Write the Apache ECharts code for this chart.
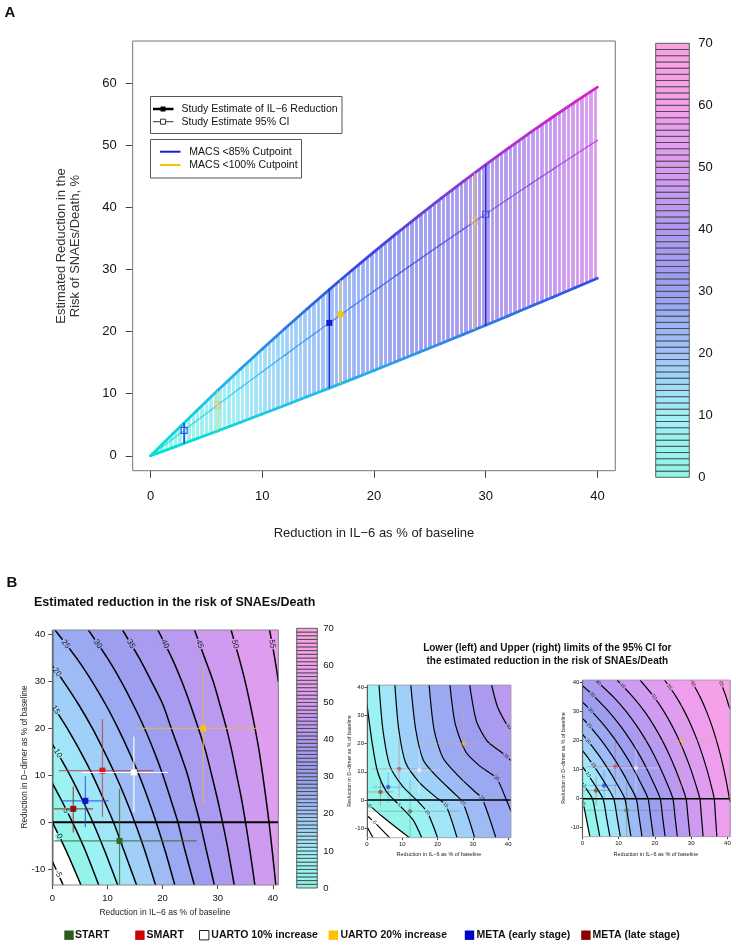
<!DOCTYPE html>
<html><head><meta charset="utf-8">
<script src="https://cdn.jsdelivr.net/npm/echarts@6/dist/echarts.min.js"></script>
<style>html,body{margin:0;padding:0;background:#fff}#c{width:736px;height:945px}</style>
</head><body><div id="c"></div>
<script>
const FONT = '"Liberation Sans", Arial, Helvetica, sans-serif';

// ---------------- Panel A data ----------------
const ilX        = [0,2,4,6,8,10,12,14,16,18,20,22,24,26,28,30,32,34,36,38,40];
const riskUpper  = [0,3.57,7.07,10.52,13.89,17.21,20.46,23.65,26.78,29.84,32.84,35.78,38.65,41.46,44.21,46.89,49.51,52.07,54.56,56.99,59.36];
const riskCenter = [0,2.75,5.48,8.19,10.88,13.54,16.18,18.8,21.39,23.97,26.52,29.05,31.56,34.04,36.5,38.94,41.35,43.75,46.12,48.48,50.8];
const riskLower  = [0,1.32,2.66,4.0,5.36,6.73,8.11,9.5,10.9,12.31,13.74,15.18,16.63,18.08,19.55,21.03,22.52,24.03,25.53,27.06,28.6];
const axisATicksX = [0,10,20,30,40];
const axisATicksY = [0,10,20,30,40,50,60];
const macs85X = [3,16,30], macs85Est = [4.1,21.4,38.9], macs85Lo = [2.0,10.9,21.0], macs85Hi = [5.3,26.8,46.9], macs85Filled = [false,true,false];
const macs100X = [6,17,29], macs100Est = [8.2,22.8,37.8], macs100Lo = [4.0,11.6,20.3], macs100Hi = [10.5,28.3,45.6], macs100Filled = [false,true,false];
const colorbarBreaks = [0,1,2,3,4,5,6,7,8,9,10,11,12,13,14,15,16,17,18,19,20,21,22,23,24,25,26,27,28,29,30,31,32,33,34,35,36,37,38,39,40,41,42,43,44,45,46,47,48,49,50,51,52,53,54,55,56,57,58,59,60,61,62,63,64,65,66,67,68,69,70];
const colorbarTicks = [0,10,20,30,40,50,60,70];

// ---------------- Panel B data ----------------
const bTicksX = [0,10,20,30,40];
const bTicksY = [-10,0,10,20,30,40];
const mainLevels = [-5,0,5,10,15,20,25,30,35,40,45,50,55];
const mainContours = [
 [[0,-8.33],[1.05,-11],[1.96,-13.4]],
 [[0,0],[2.47,-6],[5.2,-13.4]],
 [[0,8.33],[1.52,5],[3.65,0],[5.96,-6],[8.42,-13.4]],
 [[0,16.67],[1.34,14],[3.22,10],[5.35,5],[7.35,0],[9.46,-6],[11.86,-13.4]],
 [[0,25],[1.12,23],[2.71,20],[5.13,15],[7.32,10],[9.25,5],[11.1,0],[12.98,-6],[15.28,-13.4]],
 [[0,33.33],[2.05,30],[4.82,25],[7.28,20],[9.45,15],[11.48,10],[13.3,5],[14.96,0],[16.76,-6],[18.72,-13.4]],
 [[0.48,41],[4.4,35],[7.23,30],[9.73,25],[11.93,20],[13.92,15],[15.75,10],[17.36,5],[18.84,0],[20.44,-6],[22.22,-13.4]],
 [[6.54,41],[10.0,35],[12.51,30],[14.72,25],[16.74,20],[18.5,15],[20.07,10],[21.45,5],[22.79,0],[24.06,-6],[25.76,-13.4]],
 [[12.75,41],[15.78,35],[18.0,30],[20.1,25],[21.58,20],[23.12,15],[24.56,10],[25.66,5],[26.78,0],[27.95,-6],[29.39,-13.4]],
 [[19.15,41],[21.7,35],[23.5,30],[25.07,25],[26.5,20],[27.86,15],[28.93,10],[29.95,5],[30.88,0],[31.9,-6],[33.0,-13.4]],
 [[25.8,41],[27.66,35],[29.2,30],[30.43,25],[31.6,20],[32.6,15],[33.46,10],[34.32,5],[35.05,0],[35.85,-6],[36.75,-13.4]],
 [[32.44,41],[33.89,35],[34.99,30],[35.93,25],[36.78,20],[37.55,15],[38.18,10],[38.77,5],[39.31,0],[39.89,-6],[40.55,-13.4]],
 [[39.42,41],[39.9,38],[40.35,35],[40.63,33],[41,30]]
];
const mainLabelPos = [[1.05,-11],[1.27,-3],[2.5,2.4],[1.0,14.7],[0.6,24],[0.84,32],[2.44,38],[8.27,38],[14.27,38],[20.43,38],[26.73,38],[33.17,38],[39.9,38]];

const leftLevels = [-10,-5,0,5,10,15,20,25,30,35,40];
const leftContours = [
 [[0,-9.5],[1.7,-13.4]],
 [[0,-5.5],[3,-9],[6.4,-13.4]],
 [[0,-1.2],[4,-5.5],[8,-9.5],[12,-13.4]],
 [[0,33.8],[1.5,20],[3,10],[5.5,3],[9.1,-1.8],[13,-7],[15.5,-13.4]],
 [[3.4,40.8],[4.5,25],[6.5,12],[10,5],[14,0],[17.1,-4.4],[20,-13.4]],
 [[7.9,40.8],[9,25],[11,13],[15,6],[19.5,1],[22.3,-1.8],[25.5,-13.4]],
 [[12.4,40.8],[13.8,25],[16,14],[20,8],[25,2],[27.2,-1],[30.5,-13.4]],
 [[17.6,40.8],[19,25],[21.5,15],[25.5,9],[30.5,3],[32.6,0.6],[36.5,-13.4]],
 [[23.5,40.8],[25,27],[28,17],[32,12],[36.7,7.7],[39.5,0],[40.8,-4]],
 [[29.1,40.8],[31,28],[34,21],[38,17],[40.8,14]],
 [[35.3,40.8],[37,33],[39.5,27],[40.8,25]]
];
const leftLabelPos = [null,[2.0,-7.9],[0.8,-2.1],[9.1,-1.8],[17.1,-4.4],[22.3,-1.8],[27.2,-1],[32.6,0.6],[36.7,7.7],[39.4,15.5],[40.1,26]];

const rightLevels = [0,5,10,15,20,25,30,35,40,45,50,55,60,65];
const rightContours = [
 [[0,0],[0.98,-6],[2.08,-13.1]],
 [[0,5.56],[0.3,5],[1.58,2.5],[2.81,0],[3.76,-6],[4.82,-13.1]],
 [[0,11.11],[0.63,10],[3.3,5],[5.7,0],[6.6,-6],[7.61,-13.1]],
 [[0,16.67],[1.03,15],[3.87,10],[6.4,5],[8.66,0],[9.52,-6],[10.47,-13.1]],
 [[0,22.22],[1.49,20],[4.53,15],[7.21,10],[9.59,5],[11.72,0],[12.52,-6],[13.4,-13.1]],
 [[0,27.78],[0.59,27],[2.03,25],[5.29,20],[8.13,15],[10.65,10],[12.86,5],[14.86,0],[15.61,-6],[16.45,-13.1]],
 [[0,33.33],[1.12,32],[2.67,30],[6.2,25],[9.23,20],[11.88,15],[14.2,10],[16.27,5],[18.11,0],[18.8,-6],[19.59,-13.1]],
 [[0,38.89],[1.77,37],[3.48,35],[7.3,30],[10.54,25],[13.33,20],[15.78,15],[17.89,10],[19.79,5],[21.47,0],[22.1,-6],[22.82,-13.1]],
 [[3.64,40.9],[8.63,35],[12.12,30],[15.05,25],[17.59,20],[19.8,15],[21.72,10],[23.45,5],[24.96,0],[25.53,-6],[26.19,-13.1]],
 [[9.59,40.9],[13.99,35],[17.18,30],[19.8,25],[22.06,20],[24.02,15],[25.73,10],[27.25,5],[28.59,0],[29.1,-6],[29.67,-13.1]],
 [[15.91,40.9],[19.82,35],[22.52,30],[24.78,25],[26.75,20],[28.44,15],[29.93,10],[31.23,5],[32.38,0],[32.82,-6],[33.3,-13.1]],
 [[22.66,40.9],[25.93,35],[28.19,30],[30.09,25],[31.71,20],[33.11,15],[34.34,10],[35.41,5],[36.35,0],[36.69,-6],[37.08,-13.1]],
 [[29.94,40.9],[32.5,35],[34.26,30],[35.73,25],[36.98,20],[38.08,15],[39.01,10],[39.83,5],[40.55,0],[40.7,-1]],
 [[37.92,40.9],[39.65,35],[40.38,32],[40.7,31]]
];
const rightLabelPos = [[0.3,-1.8],[0.66,4.3],[1.59,8.3],[3.06,11.5],[1.6,19.8],[1.95,25.2],[2.3,30.5],[2.8,35.8],[4.4,40],[11.08,38.9],[19.82,35],[23.99,38.5],[30.5,39.6],[38.3,39.6]];

const studyNames = ['START','SMART','UARTO 10% increase','UARTO 20% increase','META (early stage)','META (late stage)'];
const studyX   = [12.2, 9.1, 14.8, 27.4, 6.0, 3.8];
const studyY   = [-4.0, 11.0, 10.6, 20.0, 4.56, 2.85];
const studyXlo = [0.3, 1.2, 5.4, 15.3, 1.7, 0.3];
const studyXhi = [26.2, 18.4, 21.0, 37.7, 10.2, 7.4];
const studyYlo = [-13.4, 1.1, 2.1, 3.9, -1.1, -2.2];
const studyYhi = [7.05, 22.0, 18.3, 33.4, 9.8, 7.6];

// ---------------- styles ----------------
const studyColor = ['#2f6a27','#dc1a1a','#ffffff','#f7c21a','#1414d4','#8c1414'];
const studyBarColor = ['rgba(47,106,39,0.75)','rgba(190,60,60,0.75)','rgba(255,255,255,0.95)','rgba(225,185,80,0.8)','rgba(40,80,225,0.8)','rgba(140,30,30,0.75)'];
const legendColor = ['#2e5a1c','#cc0000','#ffffff','#ffc000','#0000cc','#8b0000'];
const PAL = [[0,[144,245,228]],[10,[160,240,248]],[20,[160,196,248]],[30,[152,160,240]],[40,[176,152,240]],[50,[216,156,240]],[60,[244,160,236]],[70,[248,164,224]]];
const LPAL = [[0,[0,228,208]],[10,[32,192,232]],[20,[48,128,232]],[30,[48,72,224]],[40,[112,64,216]],[50,[176,48,208]],[60,[224,32,192]],[70,[240,32,176]]];
function toRgb(c){return 'rgb('+c.map(Math.round).join(',')+')';}
function palColor(v, pal){
  pal = pal || PAL;
  if (v <= pal[0][0]) return toRgb(pal[0][1]);
  for (let i=1;i<pal.length;i++){
    if (v <= pal[i][0]) { const t=(v-pal[i-1][0])/(pal[i][0]-pal[i-1][0]); const a=pal[i-1][1], b=pal[i][1]; return toRgb(a.map((c,j)=>c+(b[j]-c)*t)); }
  }
  return toRgb(pal[pal.length-1][1]);
}

// layout boxes (pixels)
const gA  = {left:132.7, top:41, width:482.6, height:429.7};
const gCA = {left:655.7, top:43.3, width:33.6, height:434};
const gB  = {left:52.3, top:630, width:226, height:255};
const gCB = {left:296.7, top:628.3, width:20.6, height:259.7};
const gL  = {left:367, top:685, width:144, height:152.7};
const gR  = {left:582.3, top:680, width:147.7, height:156.7};
const boxB = {x0:0,x1:41,y0:-13.4,y1:41};
const boxL = {x0:0,x1:40.8,y0:-13.4,y1:40.8};
const boxR = {x0:0,x1:40.7,y0:-13.1,y1:40.9};

function valAxis(grid, min, max, ticks, o){
  o = o || {};
  return {type:'value', gridIndex:grid, min:min, max:max, position:o.position,
    axisLine:{show:false, onZero:false},
    axisTick:{show:!!ticks && o.tick!==false, length:o.tickLen||5, customValues:ticks||undefined, lineStyle:{color:'#444', width:1}},
    axisLabel:{show:!!ticks, customValues:ticks||undefined, fontSize:o.fs||10, color:'#111', fontFamily:FONT, margin:o.margin||6},
    splitLine:{show:false}};
}
function hiddenAxis(grid,min,max){return {type:'value',gridIndex:grid,min:min,max:max,show:false,axisLine:{onZero:false},splitLine:{show:false}};}

function regionPoly(pts, b){
  const W=b.x1-b.x0, H=b.y1-b.y0, eps=1e-6;
  const s = p => { if (Math.abs(p[1]-b.y0)<eps) return p[0]-b.x0; if (Math.abs(p[0]-b.x1)<eps) return W+(p[1]-b.y0); if (Math.abs(p[1]-b.y1)<eps) return W+H+(b.x1-p[0]); return 2*W+H+(b.y1-p[1]); };
  const corners = [[W,[b.x1,b.y0]],[W+H,[b.x1,b.y1]],[2*W+H,[b.x0,b.y1]],[2*W+2*H,[b.x0,b.y0]]];
  const sEnd = s(pts[pts.length-1]); let sStart = s(pts[0]); if (sStart < sEnd) sStart += 2*W+2*H;
  const out = pts.slice();
  corners.forEach(c => { if (c[0] > sEnd && c[0] < sStart) out.push(c[1]); });
  return out;
}

function contourSeries(xi, yi, levels, contours, labelPos, box, o){
  const series = [];
  series.push({type:'custom', xAxisIndex:xi, yAxisIndex:yi, z:1, silent:true, clip:true,
    data: levels.map((v,i)=>[i]),
    renderItem: function(params, api){
      const i = params.dataIndex, lv = levels[i];
      if (lv < 0) return null;
      const poly = regionPoly(contours[i], box).map(p=>api.coord(p));
      return {type:'polygon', z2:i, shape:{points:poly}, style:{fill:palColor(lv+2.5), stroke:palColor(lv+2.5), lineWidth:0.5}};
    }});
  series.push({type:'custom', xAxisIndex:xi, yAxisIndex:yi, z:3, silent:true, clip:true,
    data: levels.map((v,i)=>[i]),
    renderItem: function(params, api){
      const i = params.dataIndex, lv = levels[i];
      const px = contours[i].map(p=>api.coord(p));
      const children = [{type:'polyline', shape:{points:px, smooth:0.25}, style:{stroke:'#000', lineWidth:o.lw, fill:null, lineJoin:'round'}}];
      if (labelPos[i]){
        const lp = api.coord(labelPos[i]);
        let best=0, bd=1e9;
        for (let k=0;k<px.length-1;k++){
          const mx=(px[k][0]+px[k+1][0])/2, my=(px[k][1]+px[k+1][1])/2;
          const d=(mx-lp[0])*(mx-lp[0])+(my-lp[1])*(my-lp[1]);
          if (d<bd){bd=d;best=k;}
        }
        let ang = Math.atan2(px[best+1][1]-px[best][1], px[best+1][0]-px[best][0]);
        if (ang > Math.PI/2) ang -= Math.PI; if (ang < -Math.PI/2) ang += Math.PI;
        children.push({type:'text', x:lp[0], y:lp[1], rotation:-ang, z2:10,
          style:{text:String(lv), font:o.fs+'px '+FONT, fill:'#222', align:'center', verticalAlign:'middle',
                 backgroundColor: lv<0 ? '#ffffff' : palColor(lv), padding:[0,1]}});
      }
      return {type:'group', children:children};
    }});
  series.push({type:'custom', xAxisIndex:xi, yAxisIndex:yi, z:4, silent:true, clip:true,
    data:[[0]],
    renderItem: function(params, api){
      const a=api.coord([0,box.y0]), b=api.coord([0,box.y1]), c=api.coord([box.x0,0]), d=api.coord([box.x1,0]);
      return {type:'group', children:[
        {type:'line', shape:{x1:a[0],y1:a[1],x2:b[0],y2:b[1]}, style:{stroke:'#000', lineWidth:o.zw}},
        {type:'line', shape:{x1:c[0],y1:c[1],x2:d[0],y2:d[1]}, style:{stroke:'#000', lineWidth:o.zw}}]};
    }});
  series.push({type:'custom', xAxisIndex:xi, yAxisIndex:yi, z:5, silent:true, clip:true,
    data: studyX.map((v,i)=>[i]),
    renderItem: function(params, api){
      const i = params.dataIndex;
      const c = api.coord([studyX[i], studyY[i]]);
      const xl = api.coord([studyXlo[i], studyY[i]]), xh = api.coord([studyXhi[i], studyY[i]]);
      const yl = api.coord([studyX[i], studyYlo[i]]), yh = api.coord([studyX[i], studyYhi[i]]);
      const op = o.faded ? 0.45 : 1;
      const ch = [
        {type:'line', shape:{x1:xl[0],y1:xl[1],x2:xh[0],y2:xh[1]}, style:{stroke:studyBarColor[i], lineWidth:o.bw, opacity:op}},
        {type:'line', shape:{x1:yl[0],y1:yl[1],x2:yh[0],y2:yh[1]}, style:{stroke:studyBarColor[i], lineWidth:o.bw, opacity:op}}];
      if (o.faded) ch.push({type:'circle', shape:{cx:c[0],cy:c[1],r:o.ms/2}, style:{fill:studyColor[i], opacity:0.55}});
      else ch.push({type:'rect', shape:{x:c[0]-o.ms/2,y:c[1]-o.ms/2,width:o.ms,height:o.ms}, style:{fill:studyColor[i], stroke: i===2?'#dddddd':null, lineWidth:0.5}});
      return {type:'group', children:ch};
    }});
  return series;
}

function colorbarSeries(xi, yi){
  return {type:'custom', xAxisIndex:xi, yAxisIndex:yi, z:2, silent:true,
    data: colorbarBreaks.slice(0,-1).map((v,i)=>[i]),
    renderItem: function(params, api){
      const i = params.dataIndex, v0 = colorbarBreaks[i], v1 = colorbarBreaks[i+1];
      const a = api.coord([0, v1]), b = api.coord([1, v0]);
      return {type:'rect', shape:{x:a[0], y:a[1], width:b[0]-a[0], height:b[1]-a[1]},
        style:{fill:palColor((v0+v1)/2), stroke:'#3c3c3c', lineWidth:0.8}};
    }};
}

function ciSeries(xs, est, lo, hi, filled, markColor, lineColor, openColor){
  return {type:'custom', xAxisIndex:0, yAxisIndex:0, z:6, silent:true,
    data: xs.map((v,i)=>[i]),
    renderItem: function(params, api){
      const i = params.dataIndex;
      const a = api.coord([xs[i], lo[i]]), b = api.coord([xs[i], hi[i]]), c = api.coord([xs[i], est[i]]);
      const ch = [{type:'line', shape:{x1:a[0],y1:a[1],x2:b[0],y2:b[1]}, style:{stroke:lineColor, lineWidth:1.4}}];
      if (filled[i]) ch.push({type:'rect', shape:{x:c[0]-3,y:c[1]-3,width:6,height:6}, style:{fill:markColor}});
      else ch.push({type:'rect', shape:{x:c[0]-3,y:c[1]-3,width:6,height:6}, style:{fill:'rgba(255,255,255,0.15)', stroke:openColor, lineWidth:1.1}});
      return {type:'group', children:ch};
    }};
}

const series = [];
series.push({type:'custom', xAxisIndex:0, yAxisIndex:0, z:2, silent:true,
  data: ilX.slice(0,-1).map((v,i)=>[i]),
  renderItem: function(params, api){
    const i = params.dataIndex;
    const p = [api.coord([ilX[i], riskLower[i]]), api.coord([ilX[i+1], riskLower[i+1]]), api.coord([ilX[i+1], riskUpper[i+1]]), api.coord([ilX[i], riskUpper[i]])];
    const g = new echarts.graphic.LinearGradient(0,0,1,0,[{offset:0,color:palColor(riskCenter[i])},{offset:1,color:palColor(riskCenter[i+1])}]);
    return {type:'polygon', shape:{points:p}, style:{fill:g, stroke:g, lineWidth:0.6}};
  }});
series.push({type:'custom', xAxisIndex:0, yAxisIndex:0, z:5, silent:true,
  data: ilX.slice(0,-1).map((v,i)=>[i]),
  renderItem: function(params, api){
    const i = params.dataIndex;
    const seg = (arr, w, op) => {
      const a = api.coord([ilX[i], arr[i]]), b = api.coord([ilX[i+1], arr[i+1]]);
      return {type:'line', shape:{x1:a[0],y1:a[1],x2:b[0],y2:b[1]}, style:{stroke:palColor((arr[i]+arr[i+1])/2, LPAL), lineWidth:w, lineCap:'round', opacity:op}};
    };
    return {type:'group', children:[seg(riskUpper,2.8,1), seg(riskLower,2.8,1), seg(riskCenter,1.4,0.75)]};
  }});
series.push(ciSeries(macs85X, macs85Est, macs85Lo, macs85Hi, macs85Filled, '#1a1ad2', '#1f2fd6', '#3a4ae0'));
series.push(ciSeries(macs100X, macs100Est, macs100Lo, macs100Hi, macs100Filled, '#f7c418', 'rgba(236,200,80,0.7)', 'rgba(225,190,90,0.8)'));
series.push(colorbarSeries(2, 1));
series.push(colorbarSeries(4, 3));
contourSeries(3, 2, mainLevels, mainContours, mainLabelPos, boxB, {lw:1.5, fs:8, zw:2, bw:1.2, ms:6}).forEach(s=>series.push(s));
contourSeries(5, 4, leftLevels, leftContours, leftLabelPos, boxL, {lw:1.2, fs:5, zw:1.5, bw:0.9, ms:4.5, faded:true}).forEach(s=>series.push(s));
contourSeries(6, 5, rightLevels, rightContours, rightLabelPos, boxR, {lw:1.2, fs:5, zw:1.5, bw:0.9, ms:4.5, faded:true}).forEach(s=>series.push(s));

// ---------------- graphics (titles, legends, frames) ----------------
const G = [];
function T(x,y,text,font,o){ o=o||{}; G.push({type:'text', x:x, y:y, rotation:o.rot||0, z:100, silent:true,
  style:{text:text, font:font, fill:o.fill||'#111', align:o.align||'left', verticalAlign:'middle', lineHeight:o.lh}}); }
function R(b, stroke, lw){ G.push({type:'rect', z:99, silent:true, shape:{x:b.left, y:b.top, width:b.width, height:b.height}, style:{fill:null, stroke:stroke, lineWidth:lw||1}}); }
R(gA, '#777', 1); R(gB, '#888', 1); R(gL, '#999', 0.8); R(gR, '#999', 0.8);
T(10, 13, 'A', 'bold 15px '+FONT, {align:'center'});
T(12, 583, 'B', 'bold 15px '+FONT, {align:'center'});
T(68.3, 246, 'Estimated Reduction in the\nRisk of SNAEs/Death, %', '13px '+FONT, {rot:Math.PI/2, align:'center', fill:'#333', lh:13.5});
T(374, 533, 'Reduction in IL\u22126 as % of baseline', '13px '+FONT, {align:'center', fill:'#222'});
G.push({type:'rect', z:98, silent:true, shape:{x:150.5, y:96.5, width:191.5, height:37}, style:{fill:'#fff', stroke:'#555', lineWidth:1}});
G.push({type:'rect', z:98, silent:true, shape:{x:150.5, y:139.5, width:151, height:38.5}, style:{fill:'#fff', stroke:'#555', lineWidth:1}});
G.push({type:'line', z:100, silent:true, shape:{x1:153, y1:109, x2:173.5, y2:109}, style:{stroke:'#000', lineWidth:2.5}});
G.push({type:'rect', z:101, silent:true, shape:{x:160.5, y:106.5, width:5, height:5}, style:{fill:'#000'}});
G.push({type:'line', z:100, silent:true, shape:{x1:153, y1:121.7, x2:173.5, y2:121.7}, style:{stroke:'#333', lineWidth:1}});
G.push({type:'rect', z:101, silent:true, shape:{x:160.5, y:119.2, width:5, height:5}, style:{fill:'#fff', stroke:'#333', lineWidth:1}});
T(181.5, 109, 'Study Estimate of IL\u22126 Reduction', '10.5px '+FONT);
T(181.5, 121.7, 'Study Estimate 95% CI', '10.5px '+FONT);
G.push({type:'line', z:100, silent:true, shape:{x1:160, y1:151.7, x2:180.5, y2:151.7}, style:{stroke:'#1a1ad0', lineWidth:2}});
G.push({type:'line', z:100, silent:true, shape:{x1:160, y1:165, x2:180.5, y2:165}, style:{stroke:'#f5c400', lineWidth:2}});
T(189.3, 151.7, 'MACS <85% Cutpoint', '10.5px '+FONT);
T(189.3, 165, 'MACS <100% Cutpoint', '10.5px '+FONT);
T(34, 603, 'Estimated reduction in the risk of SNAEs/Death', 'bold 12.5px '+FONT);
T(547.3, 655, 'Lower (left) and Upper (right) limits of the 95% CI for\nthe estimated reduction in the risk of SNAEs/Death', 'bold 10px '+FONT, {align:'center', lh:12.7});
T(25, 757, 'Reduction in D\u2212dimer as % of baseline', '8.3px '+FONT, {rot:Math.PI/2, align:'center', fill:'#222'});
T(165, 913, 'Reduction in IL\u22126 as % of baseline', '8.5px '+FONT, {align:'center', fill:'#222'});
T(349.3, 761, 'Reduction in D\u2212dimer as % of baseline', '5.3px '+FONT, {rot:Math.PI/2, align:'center', fill:'#222'});
T(564, 758, 'Reduction in D\u2212dimer as % of baseline', '5.3px '+FONT, {rot:Math.PI/2, align:'center', fill:'#222'});
T(439, 854.7, 'Reduction in IL\u22126 as % of baseline', '5.5px '+FONT, {align:'center', fill:'#222'});
T(656, 854.7, 'Reduction in IL\u22126 as % of baseline', '5.5px '+FONT, {align:'center', fill:'#222'});
const legSquareX = [64.3, 135.2, 199.5, 328.6, 464.8, 581.2];
const legTextX = [75.1, 146.5, 211.3, 340.4, 476.5, 592.5];
studyNames.forEach((n,i)=>{
  G.push({type:'rect', z:100, silent:true, shape:{x:legSquareX[i], y:930.5, width:9.4, height:9.4}, style:{fill:legendColor[i], stroke: i===2 ? '#222' : null, lineWidth:1}});
  T(legTextX[i], 935.5, n, 'bold 10.5px '+FONT);
});

const gridOpt = b => Object.assign({outerBoundsMode:'none', containLabel:false}, b);
const option = {
  animation:false,
  backgroundColor:'#ffffff',
  grid:[gridOpt(gA), gridOpt(gCA), gridOpt(gB), gridOpt(gCB), gridOpt(gL), gridOpt(gR)],
  xAxis:[
    valAxis(0, -1.6, 41.6, axisATicksX, {fs:13, tickLen:7, margin:19}),
    {type:'value', gridIndex:0, min:-1.6, max:41.6, interval:0.4, position:'top', z:3,
      axisLine:{show:false, onZero:false}, axisTick:{show:false}, axisLabel:{show:false},
      splitLine:{show:true, showMinLine:false, showMaxLine:false, lineStyle:{color:'#ffffff', width:1.2}}},
    hiddenAxis(1, 0, 1),
    valAxis(2, 0, 41, bTicksX, {fs:9.5, tickLen:4, margin:8}),
    hiddenAxis(3, 0, 1),
    valAxis(4, 0, 40.8, bTicksX, {fs:6, tickLen:2.5, margin:4}),
    valAxis(5, 0, 40.7, bTicksX, {fs:6, tickLen:2.5, margin:4})
  ],
  yAxis:[
    valAxis(0, -2.4, 66.8, axisATicksY, {fs:13, tickLen:7, margin:16}),
    valAxis(1, 0, 70, colorbarTicks, {fs:13, tick:false, margin:9, position:'right'}),
    valAxis(2, -13.4, 41, bTicksY, {fs:9.5, tickLen:4, margin:7}),
    valAxis(3, 0, 70, colorbarTicks, {fs:9.5, tick:false, margin:6, position:'right'}),
    valAxis(4, -13.4, 40.8, bTicksY, {fs:6, tickLen:2.5, margin:3}),
    valAxis(5, -13.1, 40.9, bTicksY, {fs:6, tickLen:2.5, margin:3})
  ],
  graphic:{elements:G},
  series:series
};
const chart = echarts.init(document.getElementById('c'), null, {renderer:'canvas'});
chart.setOption(option);
</script></body></html>
